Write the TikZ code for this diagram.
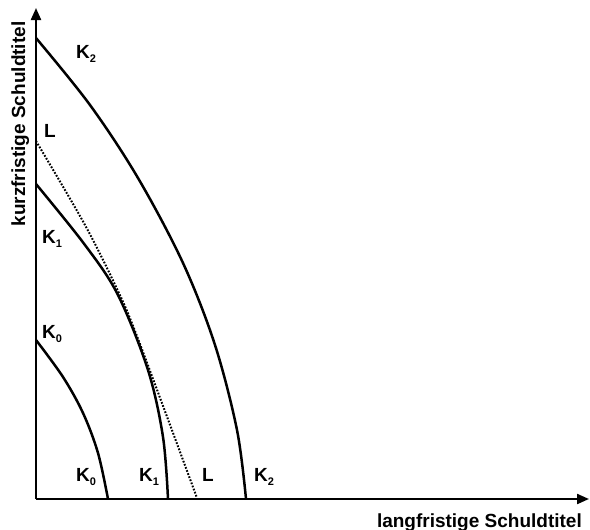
\documentclass[tikz,border=0pt]{standalone}
\usepackage{fontspec}
\setmainfont{Liberation Sans}
\usetikzlibrary{arrows.meta}
\newcommand\Ksub[1]{K\raisebox{-4pt}{\fontsize{11}{11}\selectfont #1}}
\begin{document}
\begin{tikzpicture}[x=1pt,y=-1pt,
  axis/.style={line width=2.2pt,-{Triangle[length=12pt,width=10pt]}},
  curve/.style={line width=2.5pt},
  dotline/.style={line width=2pt,dash pattern=on 1.7pt off 1.6pt},
  lab/.style={font=\fontsize{19}{19}\selectfont\bfseries,inner sep=0pt,anchor=base west},
  axlab/.style={font=\fontsize{19}{19}\selectfont\bfseries,inner sep=0pt}]
\useasboundingbox (0,0) rectangle (590,530);
\coordinate (O) at (36,499);
\coordinate (ytop) at (36,8);
\coordinate (xend) at (589,499);
\draw[axis] (O) -- (ytop);
\draw[axis] (O) -- (xend);
% curves
\draw[curve] plot[smooth,tension=0.55] coordinates {(36,38) (90,105) (138,178) (183,263) (215,345) (237,430) (246,499)};
\draw[curve] plot[smooth,tension=0.55] coordinates {(36,184) (85,245) (118,295) (148,370) (163,437) (168,499)};
\draw[curve] plot[smooth,tension=0.55] coordinates {(36,340) (63,377) (83,413) (98,453) (108,499)};
\draw[dotline] plot[smooth,tension=0.55] coordinates {(36,141) (85,225) (118,291) (135,331) (166,414) (197,498)};
% labels
\node[lab] (k2t) at (76,58) {\Ksub{2}};
\node[lab] (lt) at (44,137) {L};
\node[lab] (k1l) at (42,243) {\Ksub{1}};
\node[lab] (k0l) at (42,338) {\Ksub{0}};
\node[lab] (k0b) at (76,481) {\Ksub{0}};
\node[lab] (k1b) at (139,481) {\Ksub{1}};
\node[lab] (lb) at (202,481) {L};
\node[lab] (k2b) at (254,481) {\Ksub{2}};
\node[axlab,rotate=90,anchor=base] (ylab) at (25,124) {kurzfristige Schuldtitel};
\node[axlab,anchor=base east] (xlab) at (582,527) {langfristige Schuldtitel};
\end{tikzpicture}
\end{document}
